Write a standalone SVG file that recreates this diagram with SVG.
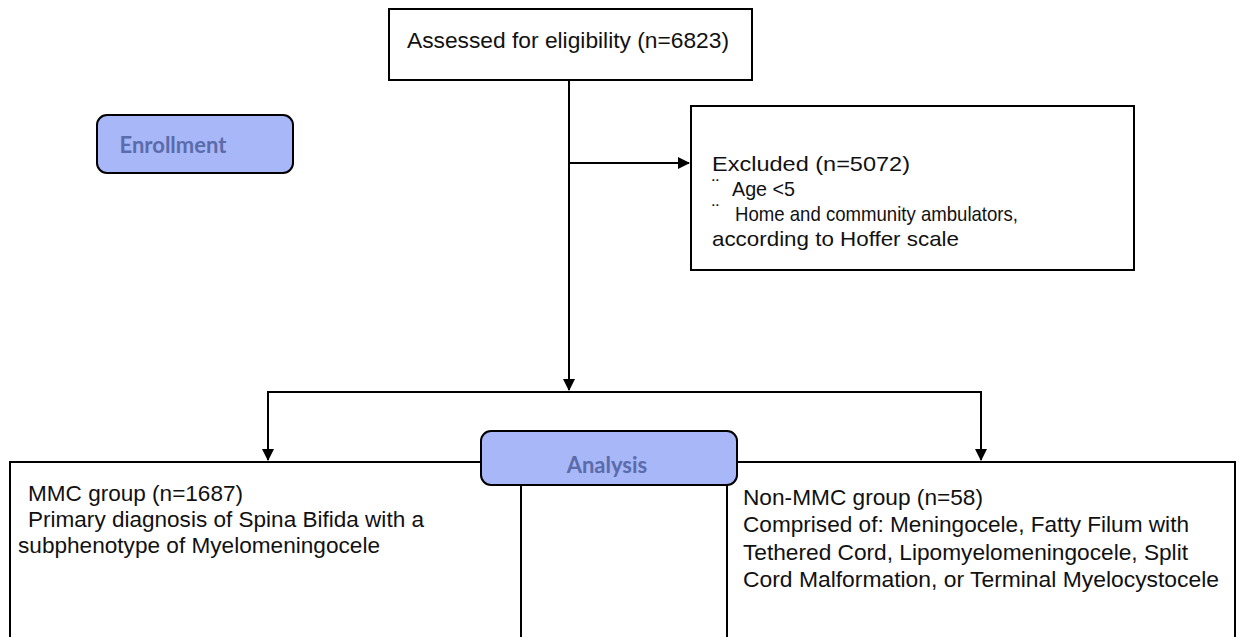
<svg xmlns="http://www.w3.org/2000/svg" width="1240" height="637" viewBox="0 0 1240 637">
<style>
.box{fill:#fff;stroke:#000;stroke-width:2}
.phase{fill:#a8b7f7;stroke:#000;stroke-width:2}
.t{font-family:"Liberation Sans",Arial,sans-serif;font-size:22px;fill:#111}
.e{font-size:21px}
.p{font-family:Lato,"Open Sans","Liberation Sans",sans-serif;font-size:22px;font-weight:bold;fill:#5a6cab;text-anchor:middle}
.c{stroke:#000;stroke-width:2;fill:none}
</style>
<defs>
<marker id="ah" markerWidth="12" markerHeight="12" refX="11" refY="6" orient="auto" markerUnits="userSpaceOnUse">
<path d="M0,0 L12,6 L0,12 Z" fill="#000"/>
</marker>
</defs>
<rect width="1240" height="637" fill="#fff"/>
<g id="connectors">
<line class="c" x1="569" y1="80" x2="569" y2="390" marker-end="url(#ah)"/>
<line class="c" x1="569" y1="163" x2="689" y2="163" marker-end="url(#ah)"/>
<polyline class="c" points="268,460 268,392 981,392 981,460" marker-end="url(#ah)"/>
<line class="c" x1="268" y1="392" x2="268" y2="460" marker-end="url(#ah)"/>
</g>
<g id="assessed">
<rect class="box" x="389" y="9" width="363" height="71"/>
<text class="t" x="407" y="48" textLength="322" lengthAdjust="spacingAndGlyphs">Assessed for eligibility (n=6823)</text>
</g>
<g id="enrollment">
<rect class="phase" x="97" y="115" width="196" height="58" rx="10"/>
<text class="p" x="173" y="153">Enrollment</text>
</g>
<g id="excluded">
<rect class="box" x="691" y="106" width="443" height="164"/>
<text class="t e" x="712" y="171" textLength="198" lengthAdjust="spacingAndGlyphs">Excluded  (n=5072)</text>
<text class="t e" x="712" y="193" font-size="14">¨</text>
<text class="t e" x="732" y="196" textLength="63" lengthAdjust="spacingAndGlyphs">Age &lt;5</text>
<text class="t e" x="712" y="218" font-size="14">¨</text>
<text class="t e" x="735" y="221" textLength="283" lengthAdjust="spacingAndGlyphs">Home and community ambulators,</text>
<text class="t e" x="712" y="246" textLength="247" lengthAdjust="spacingAndGlyphs">according to Hoffer scale</text>
</g>
<g id="mmc">
<rect class="box" x="10" y="462" width="511" height="180"/>
<text class="t" x="28" y="501" textLength="215" lengthAdjust="spacingAndGlyphs">MMC group (n=1687)</text>
<text class="t" x="28" y="527" textLength="396" lengthAdjust="spacingAndGlyphs">Primary diagnosis of Spina Bifida with a</text>
<text class="t" x="18" y="553" textLength="362" lengthAdjust="spacingAndGlyphs">subphenotype of Myelomeningocele</text>
</g>
<g id="nonmmc">
<rect class="box" x="727" y="462" width="508" height="180"/>
<text class="t" x="743" y="505" textLength="240" lengthAdjust="spacingAndGlyphs">Non-MMC  group (n=58)</text>
<text class="t" x="743" y="532" textLength="446" lengthAdjust="spacingAndGlyphs">Comprised of: Meningocele, Fatty Filum with</text>
<text class="t" x="743" y="560" textLength="445" lengthAdjust="spacingAndGlyphs">Tethered Cord, Lipomyelomeningocele, Split</text>
<text class="t" x="743" y="587" textLength="476" lengthAdjust="spacingAndGlyphs">Cord Malformation, or Terminal Myelocystocele</text>
</g>
<g id="analysis">
<rect class="phase" x="481" y="431" width="256" height="54" rx="10"/>
<text class="p" x="607" y="473">Analysis</text>
</g>
</svg>
